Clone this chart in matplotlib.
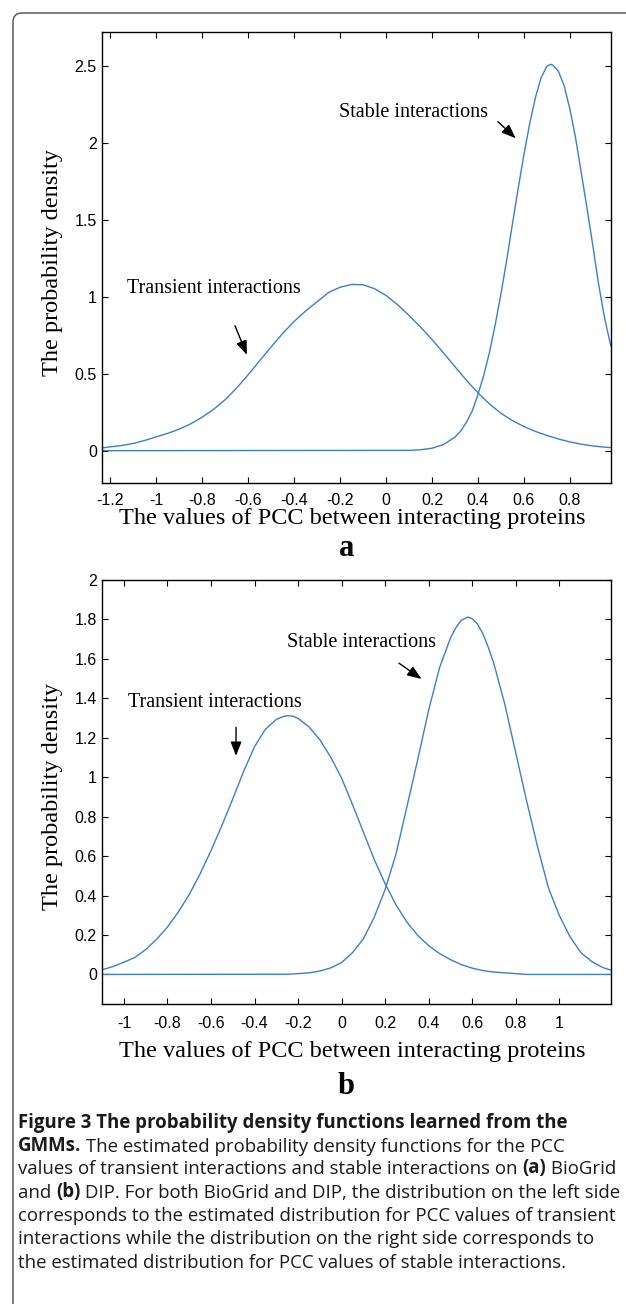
"""
Probability density functions learned from the GMMs (PCC of interacting
proteins), two panels: (a) BioGrid, (b) DIP, plus the figure caption.
"""

import matplotlib
matplotlib.use("Agg")
import matplotlib.pyplot as plt
from matplotlib.patches import FancyBboxPatch

# ── data ─────────────────────────────────────────────────────────────────────

# (a) BioGrid – transient interactions
a_trans_x = [-1.235, -1.20, -1.15, -1.10, -1.05, -1.00, -0.95, -0.90, -0.85,
             -0.80, -0.75, -0.70, -0.65, -0.60, -0.55, -0.50, -0.45, -0.40,
             -0.35, -0.30, -0.25, -0.20, -0.15, -0.10, -0.05, 0.00, 0.05,
             0.10, 0.15, 0.20, 0.25, 0.30, 0.35, 0.40, 0.45, 0.50, 0.55,
             0.60, 0.65, 0.70, 0.75, 0.80, 0.85, 0.90, 0.95, 0.978]
a_trans_y = [0.018, 0.025, 0.034, 0.047, 0.067, 0.090, 0.113, 0.140, 0.175,
             0.218, 0.270, 0.332, 0.408, 0.494, 0.585, 0.675, 0.762, 0.840,
             0.908, 0.968, 1.028, 1.062, 1.080, 1.078, 1.052, 1.008, 0.948,
             0.878, 0.803, 0.722, 0.635, 0.545, 0.457, 0.375, 0.303, 0.243,
             0.195, 0.157, 0.125, 0.099, 0.076, 0.057, 0.042, 0.031, 0.023,
             0.020]

# (a) BioGrid – stable interactions
a_stab_x = [-1.235, 0.10, 0.15, 0.20, 0.25, 0.30, 0.325, 0.35, 0.375, 0.40,
            0.425, 0.45, 0.475, 0.50, 0.525, 0.55, 0.575, 0.60, 0.625, 0.65,
            0.675, 0.70, 0.717, 0.725, 0.75, 0.775, 0.80, 0.825, 0.85, 0.875,
            0.90, 0.925, 0.95, 0.978]
a_stab_y = [0.0, 0.002, 0.006, 0.016, 0.040, 0.088, 0.128, 0.186, 0.258,
            0.365, 0.490, 0.640, 0.820, 1.020, 1.240, 1.475, 1.705, 1.925,
            2.125, 2.295, 2.425, 2.498, 2.510, 2.505, 2.465, 2.370, 2.220,
            2.030, 1.800, 1.570, 1.330, 1.080, 0.870, 0.680]

# (b) DIP – transient interactions
b_trans_x = [-1.099, -1.05, -1.00, -0.95, -0.90, -0.85, -0.80, -0.75, -0.70,
             -0.65, -0.60, -0.55, -0.50, -0.45, -0.40, -0.35, -0.30, -0.275,
             -0.25, -0.225, -0.20, -0.15, -0.10, -0.05, 0.00, 0.05, 0.10,
             0.15, 0.20, 0.25, 0.30, 0.35, 0.40, 0.45, 0.50, 0.55, 0.60,
             0.65, 0.70, 0.75, 0.80, 0.85, 1.237]
b_trans_y = [0.024, 0.040, 0.062, 0.086, 0.126, 0.178, 0.240, 0.317, 0.405,
             0.510, 0.628, 0.755, 0.890, 1.030, 1.155, 1.243, 1.293, 1.305,
             1.312, 1.310, 1.298, 1.256, 1.190, 1.102, 0.995, 0.862, 0.722,
             0.583, 0.460, 0.353, 0.265, 0.198, 0.146, 0.106, 0.075, 0.050,
             0.032, 0.019, 0.012, 0.008, 0.004, 0.0, 0.0]

# (b) DIP – stable interactions
b_stab_x = [-1.099, -0.25, -0.20, -0.15, -0.10, -0.05, 0.00, 0.05, 0.10, 0.15,
            0.20, 0.25, 0.30, 0.35, 0.40, 0.45, 0.50, 0.525, 0.55, 0.58, 0.60,
            0.625, 0.65, 0.675, 0.70, 0.75, 0.80, 0.85, 0.90, 0.95, 1.00,
            1.05, 1.10, 1.15, 1.20, 1.237]
b_stab_y = [0.0, 0.001, 0.004, 0.008, 0.017, 0.033, 0.060, 0.110, 0.180,
            0.290, 0.430, 0.610, 0.850, 1.090, 1.340, 1.555, 1.705, 1.758,
            1.796, 1.812, 1.804, 1.776, 1.726, 1.656, 1.575, 1.370, 1.125,
            0.880, 0.650, 0.440, 0.300, 0.190, 0.110, 0.065, 0.035, 0.022]

a_xticks = [-1.2, -1.0, -0.8, -0.6, -0.4, -0.2, 0.0, 0.2, 0.4, 0.6, 0.8]
a_xlabels = ["-1.2", "-1", "-0.8", "-0.6", "-0.4", "-0.2", "0", "0.2", "0.4",
             "0.6", "0.8"]
a_yticks = [0, 0.5, 1.0, 1.5, 2.0, 2.5]
a_ylabels = ["0", "0.5", "1", "1.5", "2", "2.5"]

b_xticks = [-1.0, -0.8, -0.6, -0.4, -0.2, 0.0, 0.2, 0.4, 0.6, 0.8, 1.0]
b_xlabels = ["-1", "-0.8", "-0.6", "-0.4", "-0.2", "0", "0.2", "0.4", "0.6",
             "0.8", "1"]
b_yticks = [0, 0.2, 0.4, 0.6, 0.8, 1.0, 1.2, 1.4, 1.6, 1.8, 2.0]
b_ylabels = ["0", "0.2", "0.4", "0.6", "0.8", "1", "1.2", "1.4", "1.6", "1.8",
             "2"]

XLABEL = "The values of PCC between interacting proteins"
YLABEL = "The probability density"

# caption: one list of (text, bold) pieces per printed line
caption_lines = [
    [("Figure 3 The probability density functions learned from the", True)],
    [("GMMs.", True), (" The estimated probability density functions for the PCC", False)],
    [("values of transient interactions and stable interactions on ", False),
     ("(a)", True), (" BioGrid", False)],
    [("and ", False), ("(b)", True),
     (" DIP. For both BioGrid and DIP, the distribution on the left side", False)],
    [("corresponds to the estimated distribution for PCC values of transient", False)],
    [("interactions while the distribution on the right side corresponds to", False)],
    [("the estimated distribution for PCC values of stable interactions.", False)],
]

# ── styling ──────────────────────────────────────────────────────────────────

W, H = 626, 1304
CLR_LINE = "#3c7fc9"
SERIF = "Liberation Serif"
SANS = "Liberation Sans"

plt.rcParams.update({
    "axes.unicode_minus": False,
    "font.family": SANS,
    "xtick.direction": "in",
    "ytick.direction": "in",
    "xtick.top": True,
    "ytick.right": True,
    "xtick.major.size": 4.5,
    "ytick.major.size": 4.5,
    "axes.linewidth": 1.0,
})

fig = plt.figure(figsize=(W / 100, H / 100), dpi=100)

# page overlay (frame + caption) in pixel coordinates
page = fig.add_axes([0, 0, 1, 1], zorder=-1)
page.set_xlim(0, W)
page.set_ylim(H, 0)
page.axis("off")
page.add_patch(FancyBboxPatch((13, 13), 700, 1400,
                              boxstyle="round,pad=0,rounding_size=9",
                              fill=False, ec="#5a5a5a", lw=1.1))


def px_axes(left, top, right, bottom):
    return fig.add_axes([left / W, 1 - bottom / H, (right - left) / W,
                         (bottom - top) / H])


def panel(ax, series, xlim, ylim, xt, xl, yt, yl, xpad, xlab_y):
    for x, y in series:
        ax.plot(x, y, color=CLR_LINE, lw=1.0)
    ax.set_xlim(*xlim)
    ax.set_ylim(*ylim)
    ax.set_xticks(xt, xl)
    ax.set_yticks(yt, yl)
    ax.tick_params(axis="x", labelsize=11.5, pad=xpad)
    ax.tick_params(axis="y", labelsize=11.5, pad=4)
    ax.set_xlabel(XLABEL, fontfamily=SERIF, fontsize=17.5, va="center")
    ax.xaxis.set_label_coords(0.492, xlab_y)
    ax.set_ylabel(YLABEL, fontfamily=SERIF, fontsize=17.5, va="center")
    ax.yaxis.set_label_coords(-0.099, 0.49)
    return ax


arrow = dict(arrowstyle="-|>,head_length=0.85,head_width=0.33",
             color="black", lw=1.0, mutation_scale=10, shrinkA=0, shrinkB=0)

# ── (a) BioGrid ──────────────────────────────────────────────────────────────
ax1 = px_axes(102.4, 32, 610.8, 483)
panel(ax1, [(a_trans_x, a_trans_y), (a_stab_x, a_stab_y)],
      (-1.235, 0.978), (-0.21, 2.72), a_xticks, a_xlabels, a_yticks, a_ylabels,
      xpad=7, xlab_y=-0.078)
ax1.text(-0.207, 2.197, "Stable interactions", fontfamily=SERIF,
         fontsize=14.5, va="center", ha="left")
ax1.annotate("", xy=(0.564, 2.03), xytext=(0.486, 2.138), arrowprops=arrow)
ax1.text(-1.129, 1.056, "Transient interactions", fontfamily=SERIF,
         fontsize=14.5, va="center", ha="left")
ax1.annotate("", xy=(-0.606, 0.623), xytext=(-0.658, 0.812), arrowprops=arrow)
page.text(346.4, 548, "a", fontfamily=SERIF, fontweight="bold", fontsize=22,
          ha="center", va="center")

# ── (b) DIP ──────────────────────────────────────────────────────────────────
ax2 = px_axes(102.4, 580, 610.8, 1004)
panel(ax2, [(b_trans_x, b_trans_y), (b_stab_x, b_stab_y)],
      (-1.099, 1.237), (-0.15, 2.0), b_xticks, b_xlabels, b_yticks, b_ylabels,
      xpad=9, xlab_y=-0.113)
ax2.text(-0.249, 1.685, "Stable interactions", fontfamily=SERIF,
         fontsize=14.5, va="center", ha="left")
ax2.annotate("", xy=(0.367, 1.498), xytext=(0.264, 1.578), arrowprops=arrow)
ax2.text(-0.982, 1.38, "Transient interactions", fontfamily=SERIF,
         fontsize=14.5, va="center", ha="left")
ax2.annotate("", xy=(-0.485, 1.108), xytext=(-0.485, 1.253), arrowprops=arrow)
page.text(346, 1086.7, "b", fontfamily=SERIF, fontweight="bold", fontsize=22,
          ha="center", va="center")

# ── caption ──────────────────────────────────────────────────────────────────
CAP_FONT = "Open Sans"
CAP_SIZE = 13.4
y0, dy = 1122.7, 23.3
for i, pieces in enumerate(caption_lines):
    prev = None
    for txt, bold in pieces:
        kw = dict(fontfamily=CAP_FONT, fontsize=CAP_SIZE, color="#1a1a1a",
                  fontweight="bold" if bold else "normal")
        if prev is None:
            prev = page.text(18, y0 + i * dy, txt, ha="left", va="center", **kw)
        else:
            prev = page.annotate(txt, xy=(1, 0), xycoords=prev, ha="left",
                                 va="bottom", **kw)

fig.savefig("out.png", dpi=100)
